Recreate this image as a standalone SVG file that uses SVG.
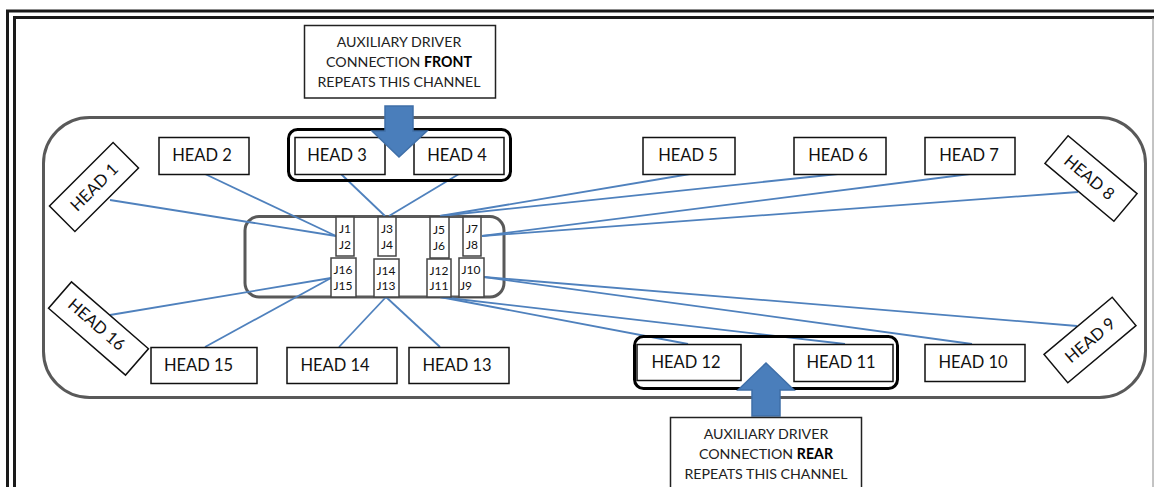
<svg xmlns="http://www.w3.org/2000/svg" width="1154" height="487" viewBox="0 0 1154 487">
<style>
text{font-family:"Lato","Open Sans",sans-serif;fill:#111;text-anchor:middle}
.h rect{fill:#fff;stroke:#111;stroke-width:1.5}
.h text{font-size:16.500px}
.j rect{fill:#fff;stroke:#444;stroke-width:1.5}
.j text{font-size:12px}
.c text{font-size:14.200px;fill:#222}
.c rect{fill:#fff;stroke:#222;stroke-width:1.5}
.g{fill:none;stroke:#000;stroke-width:3}
.a{fill:#4a7ebb;stroke:#3f6fa8;stroke-width:1.5}
#connectors line{stroke:#4f81bd;stroke-width:1.8}
</style>
<rect width="1154" height="487" fill="#fff"/>
<g id="frame" fill="none" stroke="#1a1a1a">
<path d="M7.500 487V11H1154" stroke-width="3"/>
<path d="M14.500 487V17.500H1154" stroke-width="3"/>
<path d="M1153 18V487" stroke="#888" stroke-width="1"/>
</g>
<rect id="bar" x="43.500" y="117.500" width="1102" height="280" rx="46" fill="#fff" stroke="#595959" stroke-width="3"/>
<rect id="hub" x="245" y="216.500" width="259" height="80.500" rx="14" fill="none" stroke="#595959" stroke-width="3"/>
<g id="connectors">
<line x1="110" y1="200" x2="336" y2="236"/><line x1="205" y1="174" x2="336" y2="236"/>
<line x1="341" y1="174" x2="385" y2="216"/><line x1="459" y1="174" x2="389" y2="216"/>
<line x1="690" y1="174" x2="440" y2="216"/><line x1="838" y1="174" x2="440" y2="216"/>
<line x1="970" y1="174" x2="482" y2="236"/><line x1="1078" y1="192" x2="482" y2="236"/>
<line x1="110" y1="315" x2="331" y2="278"/><line x1="205" y1="347" x2="331" y2="278"/>
<line x1="339" y1="347" x2="386" y2="297"/><line x1="440" y1="347" x2="386" y2="297"/>
<line x1="688" y1="344" x2="440" y2="297"/><line x1="845" y1="344" x2="440" y2="297"/>
<line x1="972" y1="344" x2="484" y2="277"/><line x1="1077" y1="326" x2="484" y2="277"/>
</g>
<g id="jacks" class="j">
<g id="j1-2"><rect x="336" y="217" width="18" height="39"/><text x="345" y="233">J1</text><text x="345" y="249">J2</text></g>
<g id="j3-4"><rect x="378" y="217" width="18" height="39"/><text x="387" y="233">J3</text><text x="387" y="249">J4</text></g>
<g id="j5-6"><rect x="430" y="217" width="19" height="41"/><text x="439" y="234">J5</text><text x="439" y="250">J6</text></g>
<g id="j7-8"><rect x="463" y="217" width="18" height="39"/><text x="472" y="233">J7</text><text x="472" y="249">J8</text></g>
<g id="j16-15"><rect x="331" y="258" width="25" height="39"/><text x="343" y="274">J16</text><text x="343" y="290">J15</text></g>
<g id="j14-13"><rect x="374" y="259" width="25" height="38"/><text x="386" y="275">J14</text><text x="386" y="290">J13</text></g>
<g id="j12-11"><rect x="427" y="259" width="24" height="38"/><text x="439" y="275">J12</text><text x="439" y="290">J11</text></g>
<g id="j10-9"><rect x="459" y="258" width="25" height="39"/><text x="471" y="274">J10</text><text x="466" y="290">J9</text></g>
</g>
<g class="h">
<g id="head1" transform="translate(94 187) rotate(-45)"><rect x="-45" y="-18" width="90" height="36"/><text y="6">HEAD 1</text></g>
<g id="head2"><rect x="159" y="137.500" width="90" height="37"/><text x="202" y="161">HEAD 2</text></g>
<g id="head3"><rect x="295" y="137.500" width="90" height="37"/><text x="337" y="161">HEAD 3</text></g>
<g id="head4"><rect x="414" y="137.500" width="90" height="37"/><text x="457" y="161">HEAD 4</text></g>
<g id="head5"><rect x="643" y="137.500" width="92" height="37"/><text x="688" y="161">HEAD 5</text></g>
<g id="head6"><rect x="794" y="137.500" width="92" height="37"/><text x="838" y="161">HEAD 6</text></g>
<g id="head7"><rect x="925" y="137.500" width="90" height="37"/><text x="969" y="161">HEAD 7</text></g>
<g id="head8" transform="translate(1091 178.500) rotate(40)"><rect x="-45" y="-18" width="90" height="36"/><text x="-2" y="6">HEAD 8</text></g>
<g id="head9" transform="translate(1090 340) rotate(-40)"><rect x="-44.500" y="-18.500" width="89" height="37"/><text y="6">HEAD 9</text></g>
<g id="head10"><rect x="925" y="344.500" width="100" height="37"/><text x="973" y="368">HEAD 10</text></g>
<g id="head11"><rect x="794" y="344.500" width="99" height="37"/><text x="841" y="368">HEAD 11</text></g>
<g id="head12"><rect x="637" y="344.500" width="104" height="36"/><text x="686" y="368">HEAD 12</text></g>
<g id="head13"><rect x="409" y="347.500" width="100" height="36"/><text x="457" y="371">HEAD 13</text></g>
<g id="head14"><rect x="287" y="347.500" width="110" height="36"/><text x="335" y="371">HEAD 14</text></g>
<g id="head15"><rect x="151" y="347.500" width="106" height="36"/><text x="198.500" y="371">HEAD 15</text></g>
<g id="head16" transform="translate(98.500 328.500) rotate(41)"><rect x="-51" y="-17.500" width="102" height="35"/><text x="-4" y="4">HEAD 16</text></g>
</g>
<rect id="group-front" class="g" x="288.500" y="129.500" width="222" height="51" rx="9"/>
<rect id="group-rear" class="g" x="634.500" y="336.500" width="263" height="52" rx="9"/>
<path id="arrow-front" class="a" d="M385 106H413V131H427L399 157L372 131H385Z"/>
<path id="arrow-rear" class="a" d="M752 416V390H738L766 363L794 390H780V416Z"/>
<g id="callout-front" class="c"><rect x="304.500" y="25.500" width="191" height="72.500"/>
<text x="399" y="47">AUXILIARY DRIVER</text><text x="399" y="67">CONNECTION <tspan font-weight="700" fill="#000">FRONT</tspan></text><text x="399" y="87">REPEATS THIS CHANNEL</text></g>
<g id="callout-rear" class="c"><rect x="670.500" y="417.500" width="191" height="72"/>
<text x="766" y="439">AUXILIARY DRIVER</text><text x="766" y="459">CONNECTION <tspan font-weight="700" fill="#000">REAR</tspan></text><text x="766" y="479">REPEATS THIS CHANNEL</text></g>
</svg>
